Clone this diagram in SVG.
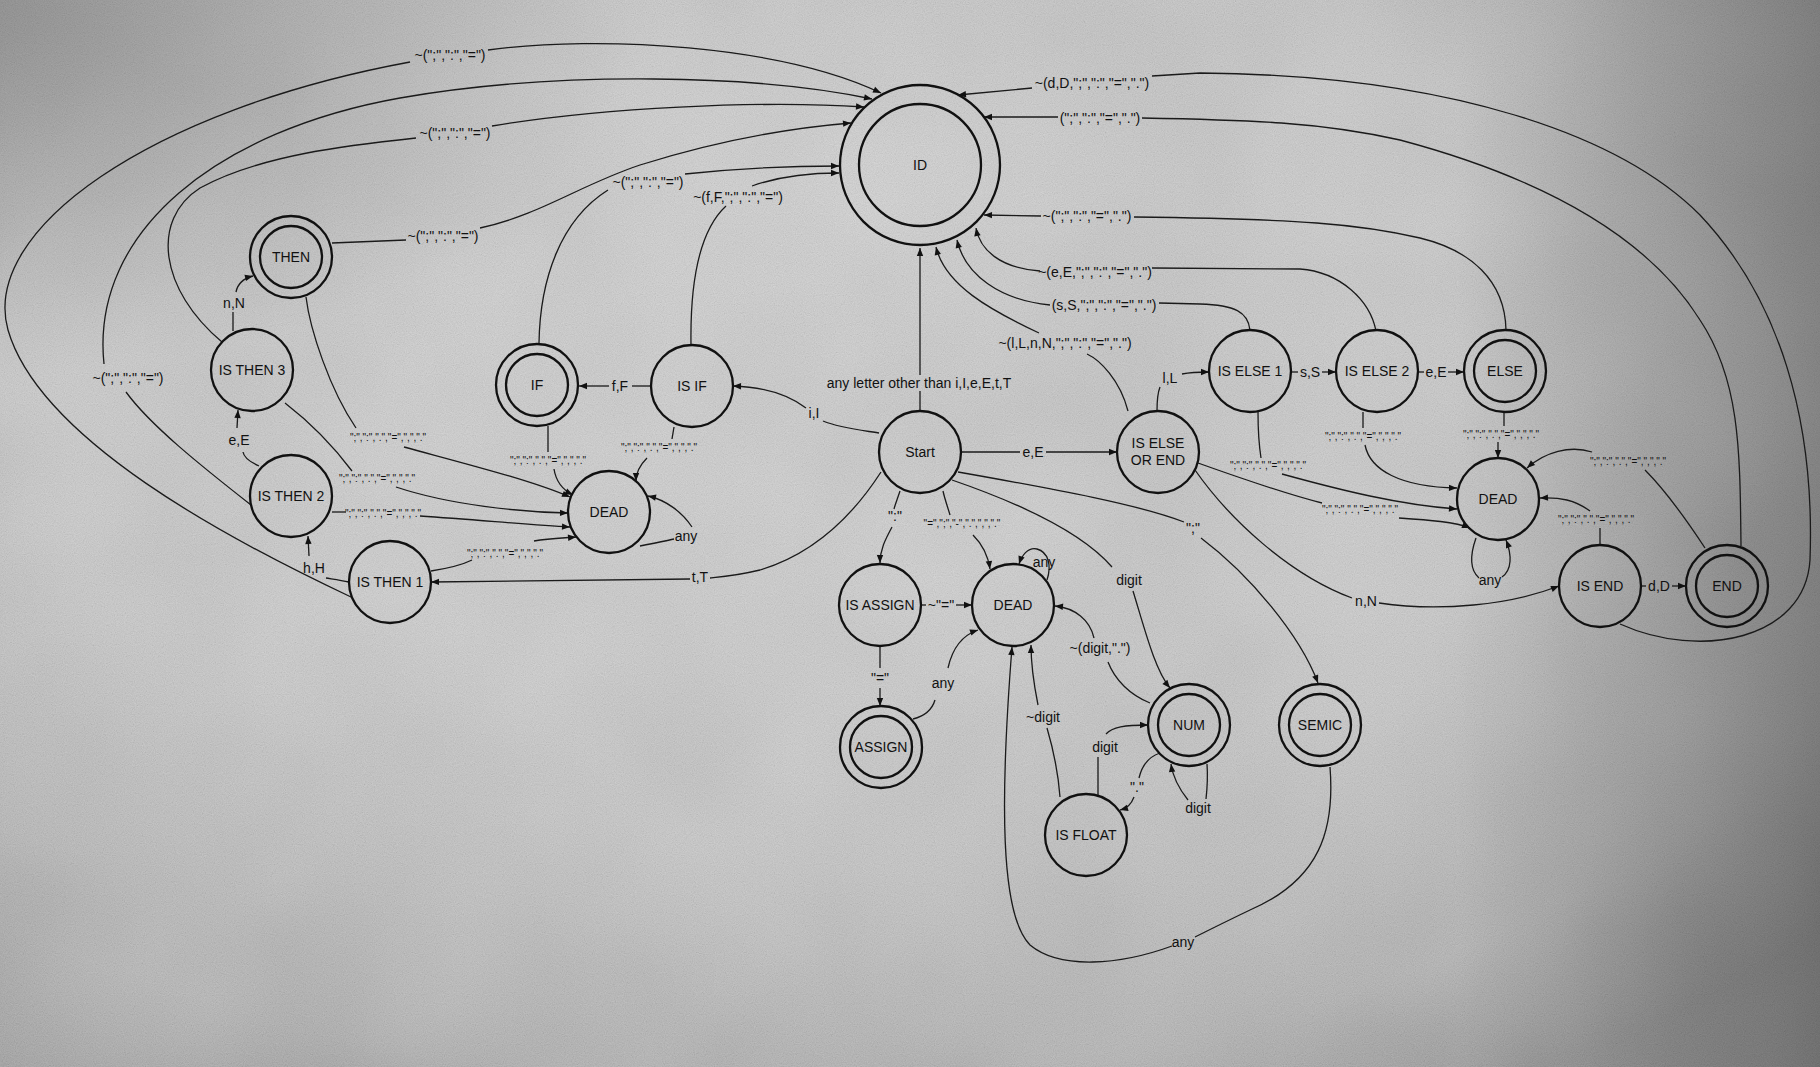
<svg xmlns="http://www.w3.org/2000/svg" width="1820" height="1067" viewBox="0 0 1820 1067">
<defs>
  <radialGradient id="bg" cx="0.42" cy="0.35" r="0.78">
    <stop offset="0" stop-color="#dedede"/>
    <stop offset="0.55" stop-color="#cbcbcb"/>
    <stop offset="0.85" stop-color="#afafaf"/>
    <stop offset="1" stop-color="#8e8e8e"/>
  </radialGradient>
  <linearGradient id="rightdark" x1="0" y1="0" x2="1" y2="0">
    <stop offset="0.8" stop-color="#000" stop-opacity="0"/>
    <stop offset="1" stop-color="#000" stop-opacity="0.3"/>
  </linearGradient>
  <radialGradient id="tlcorner" cx="0" cy="0" r="0.35">
    <stop offset="0" stop-color="#000" stop-opacity="0.22"/>
    <stop offset="1" stop-color="#000" stop-opacity="0"/>
  </radialGradient>
  <filter id="grain" x="0" y="0" width="100%" height="100%">
    <feTurbulence type="fractalNoise" baseFrequency="0.9" numOctaves="2" seed="4"/>
    <feColorMatrix type="matrix" values="0.33 0.33 0.33 0 0 0.33 0.33 0.33 0 0 0.33 0.33 0.33 0 0 0 0 0 0 1"/>
  </filter>
  <filter id="cloud" x="0" y="0" width="100%" height="100%">
    <feTurbulence type="fractalNoise" baseFrequency="0.004" numOctaves="3" seed="9"/>
    <feColorMatrix type="matrix" values="0.33 0.33 0.33 0 0 0.33 0.33 0.33 0 0 0.33 0.33 0.33 0 0 0 0 0 0 1"/>
  </filter>
  <marker id="arr" viewBox="0 0 10 10" refX="10" refY="5" markerWidth="9" markerHeight="8" markerUnits="userSpaceOnUse" orient="auto">
    <path d="M0,1 L10,5 L0,9 z" fill="#111"/>
  </marker>
  <style>
    .n { fill: none; stroke: #111; stroke-width: 2.3; }
    .nt { font-family: "Liberation Sans", Arial, sans-serif; font-size: 14px; fill: #111; text-anchor: middle; }
    .e { fill: none; stroke: #1a1a1a; stroke-width: 1.3; }
    .a { marker-end: url(#arr); }
    .l { font-family: "Liberation Sans", Arial, sans-serif; font-size: 14px; fill: #111; text-anchor: middle; }
    .s { font-family: "Liberation Sans", Arial, sans-serif; font-size: 10px; fill: #111; text-anchor: middle; }
  </style>
</defs>

<g id="background">
  <rect width="1820" height="1067" fill="url(#bg)"/>
  <rect width="1820" height="1067" filter="url(#cloud)" opacity="0.24"/>
  <rect width="1820" height="1067" filter="url(#grain)" opacity="0.26"/>
  <rect width="1820" height="1067" fill="url(#rightdark)"/>
  <rect width="1820" height="1067" fill="url(#tlcorner)"/>
</g>

<g id="connectors">
  <!-- into ID, left side -->
  <g id="e-then1-id">
    <path class="e" d="M351,597 C230,540 40,440 8,330 C-20,230 150,110 410,62"/>
    <path class="e a" d="M488,50 C600,35 780,45 881,93"/>
    <text class="l" x="450" y="60">~(";",":","=")</text>
  </g>
  <g id="e-then2-id">
    <path class="e" d="M251,505 C200,465 150,425 126,392"/>
    <path class="e a" d="M104,364 C90,230 220,130 400,98 C560,70 760,75 872,99"/>
    <text class="l" x="128" y="383">~(";",":","=")</text>
  </g>
  <g id="e-then3-id">
    <path class="e" d="M222,342 C160,290 150,220 200,188 C260,155 350,145 416,138"/>
    <path class="e a" d="M492,126 C600,108 760,100 864,107"/>
    <text class="l" x="455" y="138">~(";",":","=")</text>
  </g>
  <g id="e-then-id">
    <path class="e" d="M332,243 C360,242 385,241 406,240"/>
    <path class="e a" d="M480,228 C540,215 580,185 640,165 C720,140 790,128 851,123"/>
    <text class="l" x="443" y="241">~(";",":","=")</text>
  </g>
  <g id="e-if-id">
    <path class="e" d="M539,343 C540,280 560,220 608,190"/>
    <path class="e a" d="M685,174 C740,168 800,166 839,166"/>
    <text class="l" x="648" y="187">~(";",":","=")</text>
  </g>
  <g id="e-isif-id">
    <path class="e" d="M691,345 C690,280 700,230 726,206"/>
    <path class="e a" d="M752,186 C780,176 810,173 839,173"/>
    <text class="l" x="738" y="202">~(f,F,";",":","=")</text>
  </g>
  <!-- into ID, right side -->
  <g id="e-isend-id">
    <path class="e" d="M1620,624 C1700,660 1805,640 1810,560 C1815,420 1780,300 1700,215 C1620,135 1450,75 1200,73 L1152,76"/>
    <path class="e a" d="M1032,88 L958,95"/>
    <text class="l" x="1092" y="88">~(d,D,";",":","=",".")</text>
  </g>
  <g id="e-end-id">
    <path class="e" d="M1741,546 C1740,450 1740,380 1700,320 C1650,240 1550,180 1400,140 C1320,122 1250,120 1142,118"/>
    <path class="e a" d="M1058,117 L984,117"/>
    <text class="l" x="1100" y="123">(";",":","=",".")</text>
  </g>
  <g id="e-else-id">
    <path class="e" d="M1506,330 C1505,280 1470,250 1420,238 C1360,224 1300,219 1134,217"/>
    <path class="e a" d="M1041,216 L984,215"/>
    <text class="l" x="1087" y="221">~(";",":","=",".")</text>
  </g>
  <g id="e-else2-id">
    <path class="e" d="M1376,331 C1370,300 1340,272 1300,269 L1152,268"/>
    <path class="e a" d="M1040,271 C1000,268 980,250 976,228"/>
    <text class="l" x="1095" y="277">~(e,E,";",":","=",".")</text>
  </g>
  <g id="e-else1-id">
    <path class="e" d="M1250,330 C1248,312 1235,305 1200,304 L1159,303"/>
    <path class="e a" d="M1050,305 C1000,300 965,275 957,240"/>
    <text class="l" x="1104" y="310">(s,S,";",":","=",".")</text>
  </g>
  <g id="e-elseorend-id">
    <path class="e" d="M1128,411 C1120,380 1100,360 1087,354"/>
    <path class="e a" d="M1039,333 C990,310 945,285 936,247"/>
    <text class="l" x="1065" y="348">~(l,L,n,N,";",":","=",".")</text>
  </g>
  <g id="e-start-id">
    <path class="e" d="M920,411 L920,391"/>
    <path class="e a" d="M920,375 L920,248"/>
    <text class="l" x="919" y="388">any letter other than i,I,e,E,t,T</text>
  </g>

  <!-- left cluster -->
  <g id="e-start-isif">
    <path class="e" d="M879,433 C860,430 840,428 823,421"/>
    <path class="e a" d="M806,408 C790,396 765,387 733,386"/>
    <text class="l" x="814" y="418">i,I</text>
  </g>
  <g id="e-isif-if">
    <path class="e" d="M651,386 L632,386"/>
    <path class="e a" d="M609,386 L579,386"/>
    <text class="l" x="620" y="391">f,F</text>
  </g>
  <g id="e-isif-dead">
    <path class="e" d="M674,427 L672,439"/>
    <path class="e a" d="M647,458 C640,465 636,472 636,481"/>
    <text class="s" x="659" y="451">";",":",".","=",",","."</text>
  </g>
  <g id="e-if-dead">
    <path class="e" d="M548,426 L548,452"/>
    <path class="e a" d="M554,469 C556,482 563,490 573,495"/>
    <text class="s" x="548" y="464">";",":",".","=",",","."</text>
  </g>
  <g id="e-then-dead">
    <path class="e" d="M306,297 C310,330 330,390 356,428"/>
    <path class="e a" d="M404,447 C470,465 530,480 570,497"/>
    <text class="s" x="388" y="441">";",":",".","=",",","."</text>
  </g>
  <g id="e-then3-dead">
    <path class="e" d="M285,403 C320,430 340,455 352,471"/>
    <path class="e a" d="M396,487 C450,505 520,512 568,513"/>
    <text class="s" x="377" y="482">";",":",".","=",",","."</text>
  </g>
  <g id="e-then2-dead">
    <path class="e" d="M332,512 L346,512"/>
    <path class="e a" d="M420,516 C480,520 530,525 570,527"/>
    <text class="s" x="383" y="517">";",":",".","=",",","."</text>
  </g>
  <g id="e-then1-dead">
    <path class="e" d="M431,571 C450,568 462,565 472,560"/>
    <path class="e a" d="M534,541 C550,538 565,538 576,537"/>
    <text class="s" x="505" y="557">";",":",".","=",",","."</text>
  </g>
  <g id="e-dead1-loop">
    <path class="e" d="M640,546 C655,543 665,541 674,539"/>
    <path class="e a" d="M692,527 C682,512 666,500 648,496"/>
    <text class="l" x="686" y="541">any</text>
  </g>
  <g id="e-start-then1">
    <path class="e" d="M881,472 C850,520 810,555 760,570 C735,576 720,577 710,578"/>
    <path class="e a" d="M690,579 L431,582"/>
    <text class="l" x="700" y="582">t,T</text>
  </g>
  <g id="e-then1-then2">
    <path class="e" d="M349,582 C340,580 332,579 326,578"/>
    <path class="e a" d="M309,556 L308,536"/>
    <text class="l" x="314" y="573">h,H</text>
  </g>
  <g id="e-then2-then3">
    <path class="e" d="M259,466 C250,462 244,458 243,452"/>
    <path class="e a" d="M237,428 L238,410"/>
    <text class="l" x="239" y="445">e,E</text>
  </g>
  <g id="e-then3-then">
    <path class="e" d="M233,331 L233,312"/>
    <path class="e a" d="M236,292 C238,282 245,278 253,276"/>
    <text class="l" x="234" y="308">n,N</text>
  </g>

  <!-- right cluster -->
  <g id="e-start-elseorend">
    <path class="e" d="M961,452 L1020,452"/>
    <path class="e a" d="M1046,452 L1117,452"/>
    <text class="l" x="1033" y="457">e,E</text>
  </g>
  <g id="e-elseorend-else1">
    <path class="e" d="M1157,411 C1157,400 1158,392 1160,387"/>
    <path class="e a" d="M1182,374 C1192,372 1200,372 1209,372"/>
    <text class="l" x="1170" y="383">l,L</text>
  </g>
  <g id="e-else1-else2">
    <path class="e" d="M1291,372 L1298,372"/>
    <path class="e a" d="M1322,372 L1336,372"/>
    <text class="l" x="1310" y="377">s,S</text>
  </g>
  <g id="e-else2-else">
    <path class="e" d="M1418,372 L1424,372"/>
    <path class="e a" d="M1448,372 L1464,372"/>
    <text class="l" x="1436" y="377">e,E</text>
  </g>
  <g id="e-else1-dead">
    <path class="e" d="M1258,412 C1258,430 1259,445 1261,458"/>
    <path class="e a" d="M1282,474 C1340,490 1400,505 1457,509"/>
    <text class="s" x="1268" y="469">";",":",".","=",",","."</text>
  </g>
  <g id="e-else2-dead">
    <path class="e" d="M1363,412 L1363,428"/>
    <path class="e a" d="M1365,445 C1370,470 1400,487 1457,488"/>
    <text class="s" x="1363" y="440">";",":",".","=",",","."</text>
  </g>
  <g id="e-else-dead">
    <path class="e" d="M1504,412 L1504,426"/>
    <path class="e a" d="M1498,442 L1498,458"/>
    <text class="s" x="1501" y="438">";",":",".","=",",","."</text>
  </g>
  <g id="e-elseorend-dead">
    <path class="e" d="M1198,463 C1240,478 1290,495 1322,503"/>
    <path class="e a" d="M1399,518 C1430,520 1455,522 1470,528"/>
    <text class="s" x="1360" y="513">";",":",".","=",",","."</text>
  </g>
  <g id="e-elseorend-isend">
    <path class="e" d="M1195,470 C1230,520 1290,575 1352,598"/>
    <path class="e a" d="M1379,603 C1440,612 1510,605 1559,586"/>
    <text class="l" x="1366" y="606">n,N</text>
  </g>
  <g id="e-isend-end">
    <path class="e" d="M1641,586 L1646,586"/>
    <path class="e a" d="M1672,586 L1686,586"/>
    <text class="l" x="1659" y="591">d,D</text>
  </g>
  <g id="e-end-dead">
    <path class="e" d="M1705,548 C1680,510 1660,485 1645,470"/>
    <path class="e a" d="M1592,452 C1570,445 1545,452 1527,468"/>
    <text class="s" x="1628" y="465">";",":",".","=",",","."</text>
  </g>
  <g id="e-isend-dead">
    <path class="e" d="M1600,545 L1600,528"/>
    <path class="e a" d="M1590,511 C1575,500 1560,497 1540,498"/>
    <text class="s" x="1596" y="523">";",":",".","=",",","."</text>
  </g>
  <g id="e-dead3-loop">
    <path class="e" d="M1476,538 C1470,555 1470,570 1479,578"/>
    <path class="e a" d="M1502,577 C1512,570 1512,555 1506,540"/>
    <text class="l" x="1490" y="585">any</text>
  </g>

  <!-- bottom cluster -->
  <g id="e-start-isassign">
    <path class="e" d="M900,491 C897,500 895,505 894,509"/>
    <path class="e a" d="M892,527 C885,540 880,550 880,563"/>
    <text class="l" x="895" y="521">":"</text>
  </g>
  <g id="e-start-dead2">
    <path class="e" d="M943,491 C945,500 948,508 950,515"/>
    <path class="e a" d="M973,535 C983,545 988,555 990,569"/>
    <text class="s" x="962" y="527">"=",";","-",".",",","."</text>
  </g>
  <g id="e-isassign-dead2">
    <path class="e" d="M921,605 L926,605"/>
    <path class="e a" d="M956,605 L972,605"/>
    <text class="l" x="941" y="610">~"="</text>
  </g>
  <g id="e-isassign-assign">
    <path class="e" d="M880,646 L880,668"/>
    <path class="e a" d="M880,688 L880,706"/>
    <text class="l" x="880" y="683">"="</text>
  </g>
  <g id="e-assign-dead2">
    <path class="e" d="M913,719 C925,716 932,710 935,700"/>
    <path class="e a" d="M948,668 C952,650 960,636 978,630"/>
    <text class="l" x="943" y="688">any</text>
  </g>
  <g id="e-dead2-loop">
    <path class="e a" d="M1047,580 C1052,565 1048,552 1037,549 C1028,547 1022,555 1019,564"/>
    <text class="l" x="1044" y="567">any</text>
  </g>
  <g id="e-start-num">
    <path class="e" d="M952,480 C1010,500 1080,530 1112,567"/>
    <path class="e a" d="M1133,591 C1145,630 1155,670 1170,688"/>
    <text class="l" x="1129" y="585">digit</text>
  </g>
  <g id="e-start-semic">
    <path class="e" d="M958,472 C1060,490 1140,505 1184,522"/>
    <path class="e a" d="M1201,538 C1250,575 1300,635 1318,683"/>
    <text class="l" x="1193" y="533">";"</text>
  </g>
  <g id="e-num-dead2">
    <path class="e" d="M1150,703 C1130,695 1115,680 1108,662"/>
    <path class="e a" d="M1094,638 C1090,620 1075,608 1055,606"/>
    <text class="l" x="1100" y="653">~(digit,".")</text>
  </g>
  <g id="e-float-dead2">
    <path class="e" d="M1060,797 C1058,770 1052,745 1047,728"/>
    <path class="e a" d="M1038,705 C1034,685 1031,665 1031,645"/>
    <text class="l" x="1043" y="722">~digit</text>
  </g>
  <g id="e-float-num">
    <path class="e" d="M1098,795 L1098,757"/>
    <path class="e a" d="M1106,734 C1112,727 1125,725 1148,725"/>
    <text class="l" x="1105" y="752">digit</text>
  </g>
  <g id="e-num-float">
    <path class="e" d="M1160,753 C1148,757 1142,765 1139,778"/>
    <path class="e a" d="M1134,797 C1131,805 1127,808 1120,810"/>
    <text class="l" x="1137" y="792">"."</text>
  </g>
  <g id="e-num-loop">
    <path class="e" d="M1207,764 C1208,778 1207,790 1206,799"/>
    <path class="e a" d="M1188,800 C1180,790 1173,778 1171,764"/>
    <text class="l" x="1198" y="813">digit</text>
  </g>
  <g id="e-semic-dead2">
    <path class="e" d="M1330,767 C1335,830 1320,880 1250,910 C1225,922 1205,932 1195,937"/>
    <path class="e a" d="M1172,946 C1120,965 1060,970 1030,945 C1000,915 1000,800 1012,647"/>
    <text class="l" x="1183" y="947">any</text>
  </g>
</g>

<g id="nodes">
  <g id="node-id">
    <circle class="n" cx="920" cy="165" r="80"/>
    <circle class="n" cx="920" cy="165" r="61"/>
    <text class="nt" x="920" y="170">ID</text>
  </g>
  <g id="node-then">
    <circle class="n" cx="291" cy="257" r="41"/>
    <circle class="n" cx="291" cy="257" r="31"/>
    <text class="nt" x="291" y="262">THEN</text>
  </g>
  <g id="node-is-then-3">
    <circle class="n" cx="252" cy="370" r="41"/>
    <text class="nt" x="252" y="375">IS THEN 3</text>
  </g>
  <g id="node-is-then-2">
    <circle class="n" cx="291" cy="496" r="41"/>
    <text class="nt" x="291" y="501">IS THEN 2</text>
  </g>
  <g id="node-is-then-1">
    <circle class="n" cx="390" cy="582" r="41"/>
    <text class="nt" x="390" y="587">IS THEN 1</text>
  </g>
  <g id="node-if">
    <circle class="n" cx="537" cy="385" r="41"/>
    <circle class="n" cx="537" cy="385" r="31"/>
    <text class="nt" x="537" y="390">IF</text>
  </g>
  <g id="node-is-if">
    <circle class="n" cx="692" cy="386" r="41"/>
    <text class="nt" x="692" y="391">IS IF</text>
  </g>
  <g id="node-dead-1">
    <circle class="n" cx="609" cy="512" r="41"/>
    <text class="nt" x="609" y="517">DEAD</text>
  </g>
  <g id="node-start">
    <circle class="n" cx="920" cy="452" r="41"/>
    <text class="nt" x="920" y="457">Start</text>
  </g>
  <g id="node-is-else-or-end">
    <circle class="n" cx="1158" cy="452" r="41"/>
    <text class="nt" x="1158" y="448">IS ELSE</text>
    <text class="nt" x="1158" y="465">OR END</text>
  </g>
  <g id="node-is-else-1">
    <circle class="n" cx="1250" cy="371" r="41"/>
    <text class="nt" x="1250" y="376">IS ELSE 1</text>
  </g>
  <g id="node-is-else-2">
    <circle class="n" cx="1377" cy="371" r="41"/>
    <text class="nt" x="1377" y="376">IS ELSE 2</text>
  </g>
  <g id="node-else">
    <circle class="n" cx="1505" cy="371" r="41"/>
    <circle class="n" cx="1505" cy="371" r="31"/>
    <text class="nt" x="1505" y="376">ELSE</text>
  </g>
  <g id="node-dead-3">
    <circle class="n" cx="1498" cy="499" r="41"/>
    <text class="nt" x="1498" y="504">DEAD</text>
  </g>
  <g id="node-is-end">
    <circle class="n" cx="1600" cy="586" r="41"/>
    <text class="nt" x="1600" y="591">IS END</text>
  </g>
  <g id="node-end">
    <circle class="n" cx="1727" cy="586" r="41"/>
    <circle class="n" cx="1727" cy="586" r="31"/>
    <text class="nt" x="1727" y="591">END</text>
  </g>
  <g id="node-is-assign">
    <circle class="n" cx="880" cy="605" r="41"/>
    <text class="nt" x="880" y="610">IS ASSIGN</text>
  </g>
  <g id="node-dead-2">
    <circle class="n" cx="1013" cy="605" r="41"/>
    <text class="nt" x="1013" y="610">DEAD</text>
  </g>
  <g id="node-assign">
    <circle class="n" cx="881" cy="747" r="41"/>
    <circle class="n" cx="881" cy="747" r="31"/>
    <text class="nt" x="881" y="752">ASSIGN</text>
  </g>
  <g id="node-num">
    <circle class="n" cx="1189" cy="725" r="41"/>
    <circle class="n" cx="1189" cy="725" r="31"/>
    <text class="nt" x="1189" y="730">NUM</text>
  </g>
  <g id="node-semic">
    <circle class="n" cx="1320" cy="725" r="41"/>
    <circle class="n" cx="1320" cy="725" r="31"/>
    <text class="nt" x="1320" y="730">SEMIC</text>
  </g>
  <g id="node-is-float">
    <circle class="n" cx="1086" cy="835" r="41"/>
    <text class="nt" x="1086" y="840">IS FLOAT</text>
  </g>
</g>
</svg>
